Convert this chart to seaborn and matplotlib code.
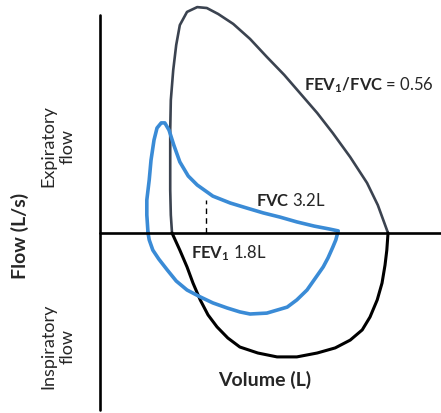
import numpy as np
import pandas as pd
import matplotlib
matplotlib.use("Agg")
import matplotlib.pyplot as plt
import seaborn as sns

sns.set_style("white")
plt.rcParams['font.family'] = ['Lato', 'DejaVu Sans']
plt.rcParams['mathtext.fontset'] = 'custom'
plt.rcParams['mathtext.rm'] = 'Lato'
plt.rcParams['mathtext.bf'] = 'Lato:bold'

# normal loop, expiratory limb (volume L, flow L/s)
exp_vol = [1.20, 1.18, 1.17, 1.17, 1.17, 1.18, 1.22, 1.27, 1.33, 1.45, 1.62, 1.78,
           1.97, 2.22, 2.50, 2.78, 3.07, 3.33, 3.62, 3.88, 4.17, 4.45, 4.63, 4.80]
exp_flow = [0, 0.6, 1.43, 2.43, 3.43, 4.43, 5.43, 6.27, 6.93, 7.37, 7.53, 7.5,
            7.3, 6.97, 6.47, 5.87, 5.27, 4.67, 4.0, 3.33, 2.53, 1.67, 0.93, 0]

# normal loop, inspiratory limb
insp_vol = [1.20, 1.33, 1.45, 1.55, 1.67, 1.80, 1.95, 2.13, 2.33, 2.63, 2.95, 3.28,
            3.62, 3.92, 4.17, 4.37, 4.50, 4.62, 4.70, 4.75, 4.78, 4.80]
insp_flow = [0, -0.57, -1.13, -1.67, -2.23, -2.73, -3.13, -3.5, -3.8, -4.0, -4.13, -4.13,
             -4.0, -3.83, -3.57, -3.23, -2.8, -2.23, -1.67, -1.07, -0.57, 0]

# obstructive loop (blue)
obs_vol = [0.80, 0.78, 0.78, 0.82, 0.85, 0.90, 0.95, 1.02, 1.08, 1.15, 1.23, 1.33,
           1.47, 1.62, 1.88, 2.17, 2.45, 2.72, 3.00, 3.28, 3.57, 3.83, 3.97, 3.93,
           3.88, 3.80, 3.72, 3.58, 3.45, 3.28, 3.12, 2.78, 2.50, 2.33, 2.12, 1.88,
           1.67, 1.45, 1.27, 1.12, 0.98, 0.88, 0.82, 0.80]
obs_flow = [0, 0.6, 1.1, 1.77, 2.43, 3.1, 3.5, 3.67, 3.67, 3.43, 2.93, 2.37,
            1.9, 1.6, 1.23, 1.0, 0.83, 0.67, 0.53, 0.37, 0.23, 0.13, 0.07, -0.23,
            -0.47, -0.83, -1.13, -1.53, -1.9, -2.23, -2.47, -2.67, -2.7, -2.63, -2.5, -2.33,
            -2.13, -1.9, -1.6, -1.23, -0.87, -0.57, -0.23, 0]

fev1_vol = 1.77
fev1_flow = 1.1

fig = plt.figure(figsize=(4.41, 4.13), dpi=100)
ax = fig.add_axes([0, 0, 1, 1])

sns.lineplot(x=exp_vol, y=exp_flow, sort=False, estimator=None, color='#3b4350', lw=1.9, ax=ax)
sns.lineplot(x=insp_vol, y=insp_flow, sort=False, estimator=None, color='black', lw=2.2, ax=ax)
sns.lineplot(x=obs_vol, y=obs_flow, sort=False, estimator=None, color='#3a8bd6', lw=2.6, ax=ax)

# axes drawn as plain lines
ax.plot([0, 0], [-5.9, 7.27], color='black', lw=1.9)
ax.plot([0, 5.7], [0, 0], color='black', lw=1.9)
ax.plot([fev1_vol, fev1_vol], [0, fev1_flow], color='black', lw=1.0, ls=(0, (4, 3)))

ax.text(4.48, 4.93, r'$\mathbf{FEV_1/FVC}$ = 0.56', fontsize=12, ha='center', va='center')
ax.text(3.18, 1.1, r'$\mathbf{FVC}$ 3.2L', fontsize=12, ha='center', va='center')
ax.text(2.15, -0.67, r'$\mathbf{FEV_1}$ 1.8L', fontsize=12, ha='center', va='center')
ax.text(2.75, -4.9, 'Volume (L)', fontsize=14, fontweight='bold', ha='center', va='center')
ax.text(-1.33, -0.1, 'Flow (L/s)', fontsize=14, fontweight='bold', rotation=90,
        ha='center', va='center')
ax.text(-0.7, 2.9, 'Expiratory\nflow', fontsize=13, rotation=90, ha='center', va='center',
        linespacing=1.25)
ax.text(-0.7, -3.77, 'Inspiratory\nflow', fontsize=13, rotation=90, ha='center', va='center',
        linespacing=1.25)

ax.set_xlim(-1.667, 5.683)
ax.set_ylim(-6.0, 7.767)
ax.axis('off')

fig.savefig('out.png', dpi=100)
